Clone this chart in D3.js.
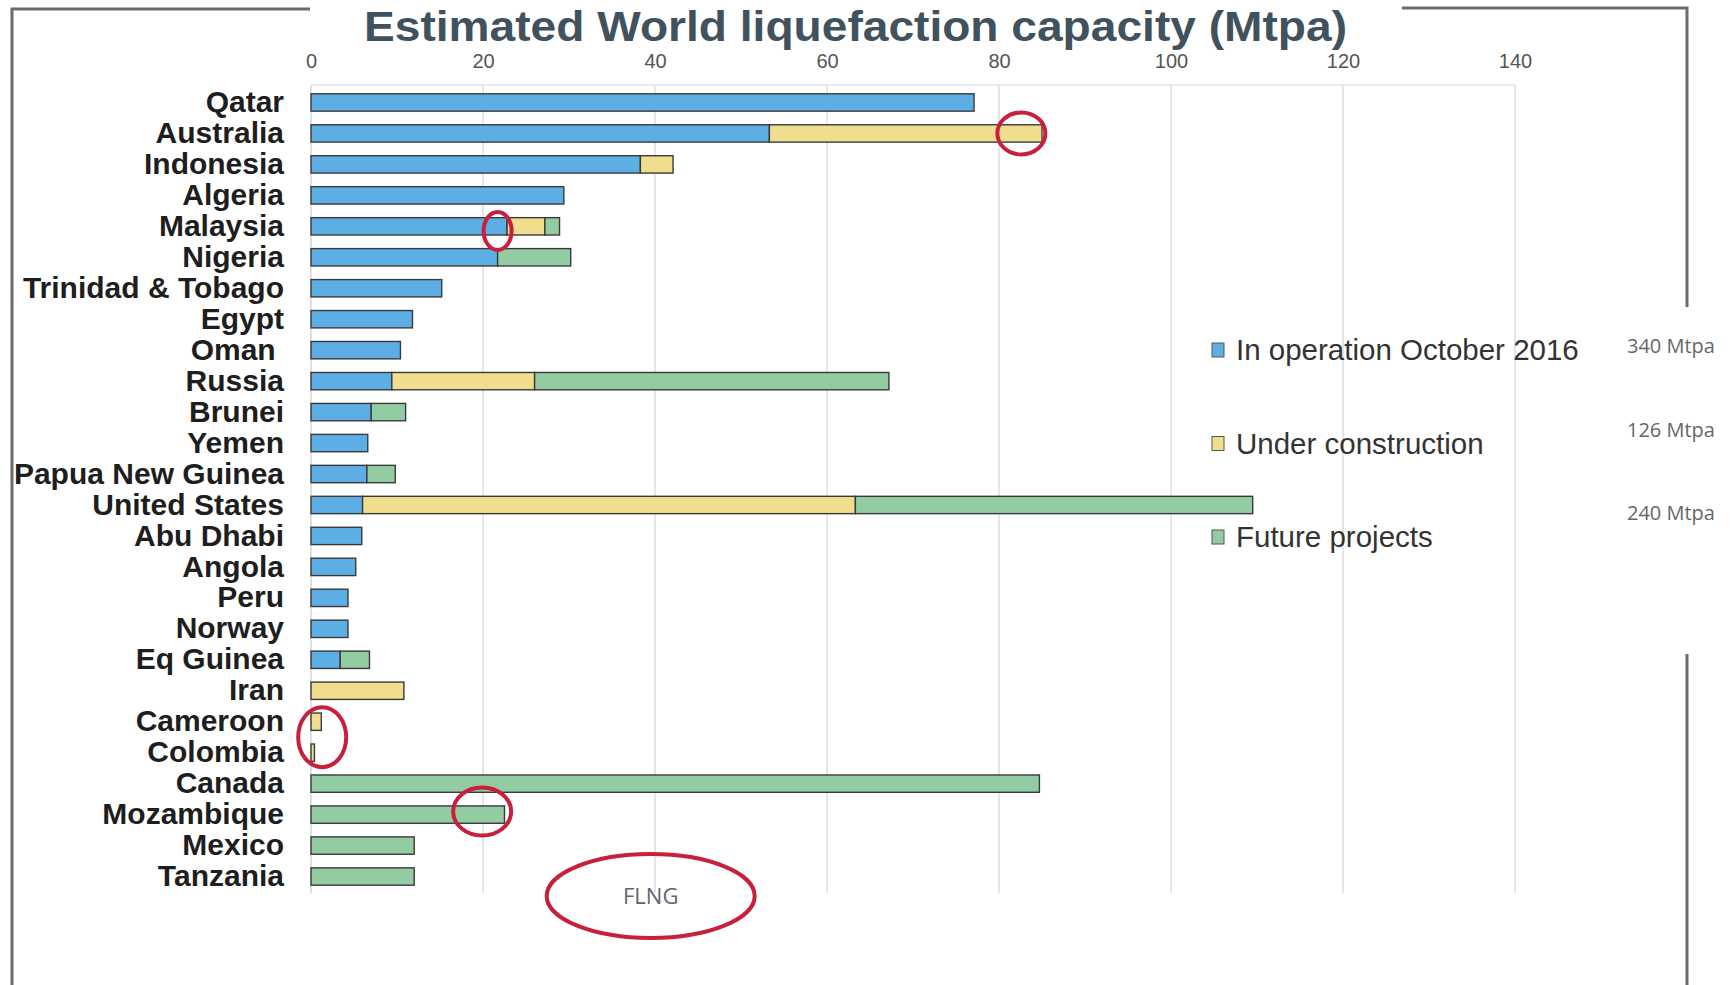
<!DOCTYPE html>
<html>
<head>
<meta charset="utf-8">
<script src="https://cdn.jsdelivr.net/npm/d3@7"></script>
<style>
  body { margin: 0; background: #fff; }
  svg { display: block; }
  .tick text { font-family: "Liberation Sans", Arial, sans-serif; }
</style>
</head>
<body>
<div id="chart"></div>
<script>
// countries, top to bottom
var countries = ["Qatar", "Australia", "Indonesia", "Algeria", "Malaysia", "Nigeria",
  "Trinidad & Tobago", "Egypt", "Oman", "Russia", "Brunei", "Yemen", "Papua New Guinea",
  "United States", "Abu Dhabi", "Angola", "Peru", "Norway", "Eq Guinea", "Iran",
  "Cameroon", "Colombia", "Canada", "Mozambique", "Mexico", "Tanzania"];

// Mtpa per country
var operating    = [77.1, 53.3, 38.3, 29.4, 22.8, 21.7, 15.2, 11.8, 10.4, 9.4, 7.0, 6.6, 6.5,
                    6.0, 5.9, 5.2, 4.3, 4.3, 3.4, 0, 0, 0, 0, 0, 0, 0];
var construction = [0, 31.7, 3.8, 0, 4.4, 0, 0, 0, 0, 16.6, 0, 0, 0,
                    57.3, 0, 0, 0, 0, 0, 10.8, 1.2, 0.4, 0, 0, 0, 0];
var future       = [0, 0, 0, 0, 1.7, 8.5, 0, 0, 0, 41.2, 4.0, 0, 3.3,
                    46.2, 0, 0, 0, 0, 3.4, 0, 0, 0, 84.7, 22.5, 12.0, 12.0];

var seriesKeys = ["operating", "construction", "future"];
var seriesNames = ["In operation October 2016", "Under construction", "Future projects"];
var seriesTotals = ["340 Mtpa", "126 Mtpa", "240 Mtpa"];
var xTicks = [0, 20, 40, 60, 80, 100, 120, 140];

var titleText = "Estimated World liquefaction capacity (Mtpa)";

// red hand drawn marks on the scan (country, value where it sits)
var marks = [
  {country: "Australia", value: 82.6},
  {country: "Malaysia", value: 21.7},
  {country: "Cameroon", value: 1.3},
  {country: "Mozambique", value: 19.9}
];
var flngLabel = "FLNG";
var flngValue = 39.5;

window.onload = function(){

  var width = 1731, height = 985;
  var colors = {operating: "#5eaee6", construction: "#f0dd8e", future: "#93cba2"};

  // table for the stack
  var table = countries.map(function(c, i){
    return {country: c, operating: operating[i], construction: construction[i], future: future[i]};
  });

  var svg = d3.select("#chart").append("svg")
    .attr("width", width)
    .attr("height", height);

  var x = d3.scaleLinear()
    .domain([0, 140])
    .range([311, 1515]);

  var y = d3.scaleBand()
    .domain(countries)
    .range([87, 892])
    .paddingInner(0.44)
    .paddingOuter(0.22);

  var plotTop = 85, plotBottom = 893;

  // scan frame
  var frame = svg.append("g")
    .attr("stroke", "#6b6b6b")
    .attr("stroke-width", 3)
    .attr("fill", "none");
  frame.append("path").attr("d", "M12,985 L12,9 L310,9");
  frame.append("path").attr("d", "M1402,8 L1687,8 L1687,307");
  frame.append("path").attr("d", "M1687,654 L1687,985");

  // gridlines
  svg.append("g")
    .selectAll("line")
    .data(xTicks)
    .enter().append("line")
    .attr("x1", function(d){ return x(d); })
    .attr("x2", function(d){ return x(d); })
    .attr("y1", plotTop)
    .attr("y2", plotBottom)
    .attr("stroke", function(d){ return d === 0 ? "#cfcfcf" : "#d9d9d9"; })
    .attr("stroke-width", 1.3);

  // top line of plot
  svg.append("line")
    .attr("x1", x(0)).attr("x2", x(140))
    .attr("y1", plotTop).attr("y2", plotTop)
    .attr("stroke", "#e3e3e3")
    .attr("stroke-width", 1.5);

  // top axis with labels
  var xAxis = d3.axisTop(x)
    .tickValues(xTicks)
    .tickSize(0)
    .tickPadding(0);

  svg.append("g")
    .attr("transform", "translate(0,68)")
    .call(xAxis)
    .call(function(g){ g.select(".domain").remove(); })
    .selectAll("text")
    .attr("font-size", 20)
    .attr("fill", "#555");

  // country labels
  var yAxis = d3.axisLeft(y)
    .tickSize(0)
    .tickPadding(27);

  svg.append("g")
    .attr("transform", "translate(" + x(0) + ",0)")
    .call(yAxis)
    .call(function(g){ g.select(".domain").remove(); })
    .selectAll("text")
    .attr("font-size", 30)
    .attr("font-weight", "bold")
    .attr("fill", "#1e1e1e")
    .text(function(d){ return d === "Oman" ? "Oman\u00a0" : d; });

  // stacked bars
  var stack = d3.stack().keys(seriesKeys);
  var layers = stack(table);

  svg.append("g")
    .selectAll("g")
    .data(layers)
    .enter().append("g")
    .attr("fill", function(d){ return colors[d.key]; })
    .selectAll("rect")
    .data(function(d){ return d.filter(function(p){ return p[1] - p[0] > 0; }); })
    .enter().append("rect")
    .attr("x", function(d){ return x(d[0]); })
    .attr("y", function(d){ return y(d.data.country); })
    .attr("width", function(d){ return x(d[1]) - x(d[0]); })
    .attr("height", y.bandwidth())
    .attr("stroke", "#3a3a3a")
    .attr("stroke-width", 1.4);

  // legend
  var legend = svg.selectAll(".legend")
    .data(seriesKeys)
    .enter().append("g")
    .attr("class", "legend")
    .attr("transform", function(d, i){ return "translate(1212," + (350 + i * 93.5) + ")"; });

  legend.append("rect")
    .attr("x", 0)
    .attr("y", -7)
    .attr("width", 12)
    .attr("height", 14)
    .attr("fill", function(d){ return colors[d]; })
    .attr("stroke", "#555")
    .attr("stroke-width", 1);

  legend.append("text")
    .attr("x", 24)
    .attr("y", 0)
    .attr("dy", "0.35em")
    .attr("font-family", "Liberation Sans, Arial, sans-serif")
    .attr("font-size", 29.5)
    .attr("fill", "#333")
    .text(function(d, i){ return seriesNames[i]; });

  // totals next to the legend
  svg.selectAll(".total")
    .data(seriesTotals)
    .enter().append("text")
    .attr("class", "total")
    .attr("x", 1627)
    .attr("y", function(d, i){ return [346, 430, 513][i]; })
    .attr("dy", "0.35em")
    .attr("font-family", "Open Sans, sans-serif")
    .attr("font-size", 20)
    .attr("fill", "#666")
    .text(function(d){ return d; });

  // title
  svg.append("text")
    .attr("x", (364 + 1347) / 2)
    .attr("y", 41)
    .attr("text-anchor", "middle")
    .attr("font-family", "Liberation Sans, Arial, sans-serif")
    .attr("font-weight", "bold")
    .attr("font-size", 42)
    .attr("fill", "#3f525e")
    .attr("textLength", 983)
    .attr("lengthAdjust", "spacingAndGlyphs")
    .text(titleText);

  // red marks
  var sizes = [[24, 21], [14, 19], [24, 30], [29, 24]];
  var offsets = [0, 0.15, 0.5, -0.1];
  svg.append("g")
    .selectAll("ellipse")
    .data(marks)
    .enter().append("ellipse")
    .attr("cx", function(d){ return x(d.value); })
    .attr("cy", function(d, i){ return y(d.country) + y.bandwidth() / 2 + offsets[i] * y.step(); })
    .attr("rx", function(d, i){ return sizes[i][0]; })
    .attr("ry", function(d, i){ return sizes[i][1]; })
    .attr("fill", "none")
    .attr("stroke", "#c8203c")
    .attr("stroke-width", 4);

  var flng = svg.append("g")
    .attr("transform", "translate(" + x(flngValue) + "," + (plotBottom + 3) + ")");

  flng.append("ellipse")
    .attr("rx", 104)
    .attr("ry", 42)
    .attr("fill", "none")
    .attr("stroke", "#c8203c")
    .attr("stroke-width", 4);

  flng.append("text")
    .attr("dy", "0.35em")
    .attr("text-anchor", "middle")
    .attr("font-family", "Open Sans, sans-serif")
    .attr("font-size", 22)
    .attr("fill", "#5d6670")
    .text(flngLabel);
}
</script>
</body>
</html>
